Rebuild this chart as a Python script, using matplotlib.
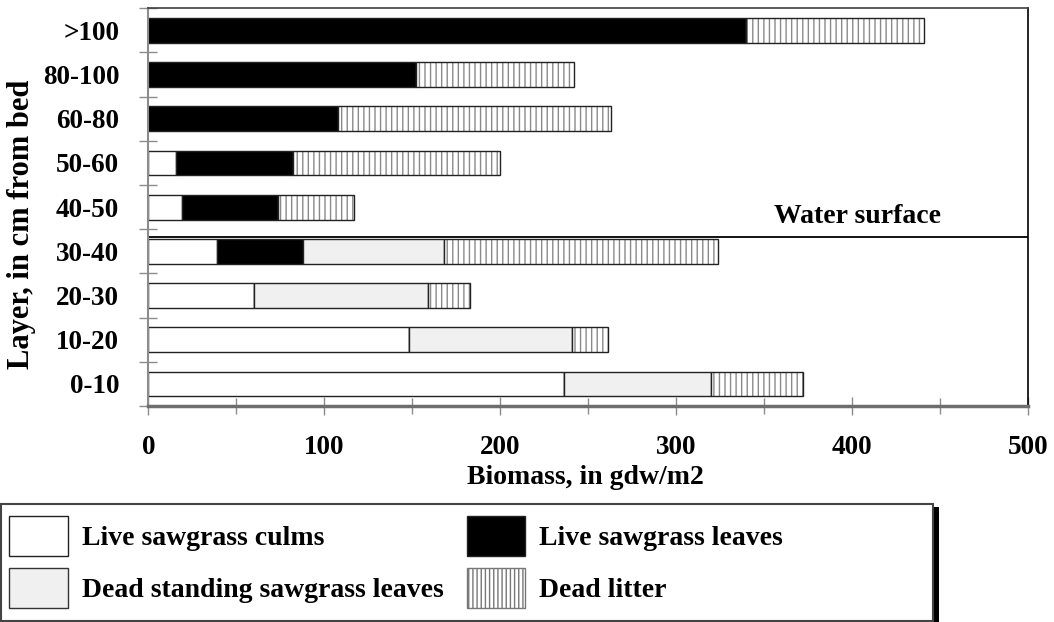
import matplotlib
matplotlib.use("Agg")
import matplotlib.pyplot as plt
from matplotlib.patches import Rectangle, Patch
import numpy as np

# biomass by layer (gdw/m2)
layers = ['0-10', '10-20', '20-30', '30-40', '40-50', '50-60', '60-80', '80-100', '>100']
culms = [236, 148, 60, 39, 19, 16, 0, 0, 0]
live_leaves = [0, 0, 0, 49, 55, 66, 108, 152, 340]
dead_standing = [84, 93, 99, 80, 0, 0, 0, 0, 0]
litter = [52, 20, 24, 156, 43, 118, 155, 90, 101]

water_level = 3.33   # between 30-40 and 40-50 layers

plt.rcParams['font.family'] = ['Liberation Serif', 'DejaVu Serif']
plt.rcParams['font.weight'] = 'bold'
plt.rcParams['axes.labelweight'] = 'bold'
plt.rcParams['hatch.linewidth'] = 1.0

fig = plt.figure(figsize=(10.54, 6.22), dpi=100)
W, H = 1054, 622
ax = fig.add_axes([148.3 / W, 1 - 406 / H, (1028 - 148.3) / W, (406 - 8.3) / H])

y = np.arange(len(layers))
h = 0.56
edge = '#222222'
hatch_col = '#8a8a8a'

c = np.array(culms)
l = np.array(live_leaves)
d = np.array(dead_standing)
t = np.array(litter)

ax.barh(y, c, h, color='white', edgecolor=edge, lw=1)
ax.barh(y, l, h, left=c, color='black', edgecolor=edge, lw=1)
ax.barh(y, d, h, left=c + l, color='#f0f0f0', edgecolor=edge, lw=1)
ax.barh(y, t, h, left=c + l + d, color='white', edgecolor=hatch_col, lw=0, hatch='|||')
# dark outline on top of the hatched part
ax.barh(y, t, h, left=c + l + d, fill=False, edgecolor=edge, lw=1)

ax.axhline(water_level, color='black', lw=1.3)
ax.text(403, 3.79, 'Water surface', ha='center', va='center', fontsize=20)

ax.set_xlim(0, 500)
ax.set_ylim(-0.5, 8.5)

ax.set_xticks(np.arange(0, 501, 100))
ax.set_xticks(np.arange(50, 500, 100), minor=True)
ax.tick_params(axis='x', which='major', direction='inout', length=13.5, width=1,
               color='#8c8c8c', pad=14, labelsize=19.5)
ax.tick_params(axis='x', which='minor', direction='inout', length=11, width=1,
               color='#8c8c8c')

ax.set_yticks(y)
ax.set_yticklabels(layers)
ax.set_yticks(np.arange(-0.5, 9, 1), minor=True)
ax.tick_params(axis='y', which='major', length=0, pad=21, labelsize=19.5)
ax.tick_params(axis='y', which='minor', direction='inout', length=13.5, width=1,
               color='#8c8c8c')

ax.spines['left'].set_color('#8c8c8c')
ax.spines['left'].set_linewidth(1.5)
ax.spines['bottom'].set_color('#6e6e6e')
ax.spines['bottom'].set_linewidth(2.5)
ax.spines['top'].set_color('#404040')
ax.spines['top'].set_linewidth(1.2)
ax.spines['right'].set_color('black')
ax.spines['right'].set_linewidth(1.2)

ax.set_xlabel('Biomass, in gdw/m2', fontsize=20, fontweight='bold', va='center')
ax.xaxis.set_label_coords(0.497, -0.181)
fig.text(22 / W, 1 - 224.5 / H, 'Layer, in cm from bed', rotation=90,
         ha='center', va='center', fontsize=22, fontweight='bold')

# legend frame with a black shadow on the right
fig.patches.append(Rectangle((933 / W, 0), 6 / W, (622 - 507) / H,
                             transform=fig.transFigure, facecolor='black',
                             edgecolor='none', zorder=1))
fig.patches.append(Rectangle((0.5 / W, 1 - 621 / H), 932.5 / W, (621 - 504) / H,
                             transform=fig.transFigure, facecolor='white',
                             edgecolor='#444444', lw=1.5, zorder=2))

handles = [
    Patch(facecolor='white', edgecolor=edge, lw=1),
    Patch(facecolor='#f0f0f0', edgecolor='#333333', lw=1),
    Patch(facecolor='black', edgecolor=edge, lw=1),
    Patch(facecolor='white', edgecolor='#777777', lw=1, hatch='||||'),
]
labels = ['Live sawgrass culms', 'Dead standing sawgrass leaves',
          'Live sawgrass leaves', 'Dead litter']
leg = fig.legend(handles, labels,
                 loc='upper left', bbox_to_anchor=(9 / W, 1 - 516 / H), ncol=2,
                 frameon=False, borderpad=0, borderaxespad=0, fontsize=20,
                 handlelength=2.12, handleheight=1.86, handletextpad=0.5,
                 labelspacing=0.4, columnspacing=0.83)
leg.set_zorder(3)

fig.savefig('out.png', dpi=100)
